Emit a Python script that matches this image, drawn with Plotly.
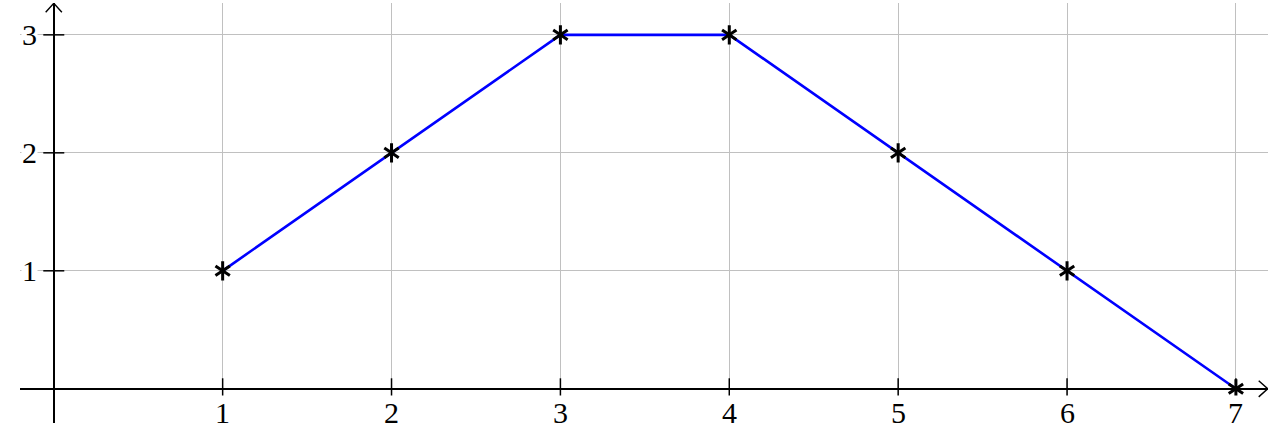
import plotly.graph_objects as go

x_vals = [1, 2, 3, 4, 5, 6, 7]
y_vals = [1, 2, 3, 3, 2, 1, 0]
x_ticks = [1, 2, 3, 4, 5, 6, 7]
y_ticks = [1, 2, 3]

x_range = [-0.2, 7.19]
y_range = [-0.29, 3.27]

fig = go.Figure()

# data line
fig.add_trace(go.Scatter(
    x=x_vals, y=y_vals, mode="lines",
    line=dict(color="#0000ff", width=2.6),
    hoverinfo="skip",
))
# six-armed asterisk marks: two "y" symbols stacked
for sym in ["y-up-open", "y-down-open"]:
    fig.add_trace(go.Scatter(
        x=x_vals, y=y_vals, mode="markers",
        marker=dict(symbol=sym, size=12, color="black",
                    line=dict(color="black", width=3)),
        cliponaxis=False, hoverinfo="skip",
    ))

# tick marks crossing the axis lines
fig.add_trace(go.Scatter(
    x=x_ticks, y=[0] * len(x_ticks), mode="markers",
    marker=dict(symbol="line-ns-open", size=15, color="black",
                line=dict(color="black", width=1.5)),
    hoverinfo="skip",
))
fig.add_trace(go.Scatter(
    x=[0] * len(y_ticks), y=y_ticks, mode="markers",
    marker=dict(symbol="line-ew-open", size=15, color="black",
                line=dict(color="black", width=1.5)),
    hoverinfo="skip",
))

font = dict(family="Liberation Serif, DejaVu Serif, serif", size=30, color="black")
for v in x_ticks:
    fig.add_annotation(x=v, y=0, text=str(v), showarrow=False, xanchor="center",
                       yanchor="top", yshift=-6, font=font, bgcolor="white", borderpad=0)
for v in y_ticks:
    fig.add_annotation(x=0, y=v, text=str(v), showarrow=False, xanchor="right",
                       yanchor="middle", xshift=-16, font=font, bgcolor="white", borderpad=0)

# arrow heads at the ends of the axes
dx = 9 / 169
dy = 9 / 118
xe = x_range[1] - 0.3 / 169
ye = y_range[1] - 0.3 / 118
fig.add_shape(type="path", xref="x", yref="y",
              path=f"M {xe - dx} {dy * 0.9} L {xe} 0 L {xe - dx} {-dy * 0.9}",
              line=dict(color="black", width=1.4))
fig.add_shape(type="path", xref="x", yref="y",
              path=f"M {-dx * 0.9} {ye - dy} L 0 {ye} L {dx * 0.9} {ye - dy}",
              line=dict(color="black", width=1.4))

fig.update_xaxes(range=x_range, tickvals=x_ticks, showticklabels=False,
                 showgrid=True, gridcolor="#c0c0c0", gridwidth=1.3,
                 zeroline=True, zerolinecolor="black", zerolinewidth=1.5,
                 showline=False, fixedrange=True)
fig.update_yaxes(range=y_range, tickvals=y_ticks, showticklabels=False,
                 showgrid=True, gridcolor="#c0c0c0", gridwidth=1.3,
                 zeroline=True, zerolinecolor="black", zerolinewidth=1.5,
                 showline=False, fixedrange=True)

fig.update_layout(
    width=1271, height=438,
    margin=dict(l=20, r=3, t=3, b=15, autoexpand=False),
    plot_bgcolor="white", paper_bgcolor="white",
    showlegend=False,
)

fig.write_html("out.html", config={"displayModeBar": False},
               post_script="document.body.style.margin='0';")
